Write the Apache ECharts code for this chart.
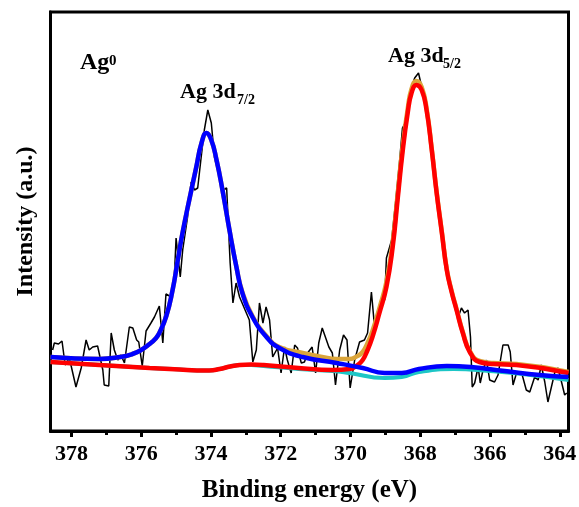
<!DOCTYPE html>
<html>
<head>
<meta charset="utf-8">
<script src="https://cdn.jsdelivr.net/npm/echarts@6.0.0/dist/echarts.min.js"></script>
<style>
  html, body { margin: 0; padding: 0; background: #fff; }
  #main { width: 579px; height: 507px; }
</style>
</head>
<body>
<div id="main"></div>
<script>
// raw XPS spectrum (binding energy, intensity a.u.)
var rawE = [378.54,378.49,378.37,378.27,378.18,378.06,377.87,377.72,377.58,377.49,
  377.39,377.25,377.10,377.06,376.93,376.86,376.77,376.67,376.58,376.48,
  376.34,376.24,376.13,376.07,375.97,375.86,375.72,375.62,375.48,375.38,
  375.29,375.14,375.05,375.00,374.88,374.81,374.67,374.57,374.47,374.38,
  374.28,374.19,374.09,373.99,373.90,373.76,373.66,373.55,373.45,373.37,
  373.28,373.18,372.90,372.80,372.70,372.61,372.51,372.42,372.32,372.23,
  372.09,371.99,371.89,371.81,371.70,371.60,371.52,371.41,371.32,371.23,
  371.10,371.00,370.91,370.81,370.71,370.62,370.52,370.43,370.31,370.20,
  370.10,370.01,369.88,369.74,369.60,369.51,369.40,369.31,369.21,369.12,
  369.02,368.97,368.82,368.71,368.59,368.51,368.36,368.30,368.16,368.05,
  367.97,367.83,367.79,367.64,367.54,367.41,367.25,367.16,367.06,366.96,
  366.89,366.82,366.73,366.63,366.56,366.51,366.44,366.34,366.28,366.20,
  366.10,366.01,365.87,365.77,365.63,365.48,365.42,365.34,365.24,365.10,
  364.96,364.86,364.72,364.62,364.53,364.43,364.34,364.24,364.14,364.05,
  363.95,363.86,363.80];
var rawI = [81,88,87,90,66,73,44,63,91,81,
  84,85,61,46,45,98,81,71,76,68,
  104,103,91,89,65,100,108,114,125,88,
  137,134,154,193,154,181,214,249,241,243,
  274,301,321,308,274,254,241,243,168,128,
  148,134,111,69,81,128,108,124,111,74,
  83,58,84,71,58,86,83,68,69,78,
  84,58,88,103,93,84,78,46,81,96,
  91,43,71,89,91,98,139,104,119,131,
  131,173,191,228,271,303,313,339,353,358,
  346,328,318,271,244,206,163,151,134,124,
  116,123,118,121,94,44,48,64,48,61,
  71,51,49,56,86,86,79,46,58,59,
  41,39,54,51,66,49,29,44,59,63,
  49,36,38];

// Ag 3d7/2 component (blue)
var blueE = [378.6,377.20,376.60,376.25,376.00,375.76,375.60,375.48,375.28,375.10,
  374.96,374.81,374.61,374.42,374.27,374.13,373.99,373.84,373.67,373.47,
  373.27,373.10,372.81,372.41,372.04,371.37,370.40,369.65,369.02,368.53,
  368.04,367.24,366.55,365.58,364.57,363.75];
var blueI = [74,72,74,77,81,87,92,98,115,141,
  169,199,233,264,288,298,291,271,241,201,
  164,138,114,94,83,74,68,63,58,58,
  62,65,64,60,56,54];

// Ag 3d5/2 component (red)
var redE = [378.6,377.20,375.76,374.90,374.40,374.05,373.75,373.45,373.18,372.85,
  372.49,371.49,370.51,370.03,369.80,369.65,369.51,369.37,369.17,368.97,
  368.79,368.65,368.51,368.36,368.25,368.11,367.96,367.82,367.67,367.53,
  367.38,367.24,367.10,366.96,366.78,366.58,366.30,365.90,365.24,363.75];
var redI = [69,66,63,61.5,60.5,60.5,62,64.5,66,66.5,
  66,63,61,62,66,71,81,94,118,144,
  184,231,278,318,338,346,341,321,281,238,
  198,161,139,121,98,79,69,67,66,58];

// background (cyan)
var bgE = [378.6,375.76,374.90,374.40,374.05,373.75,373.45,373.18,372.85,372.49,
  371.49,370.51,370.03,369.02,368.53,368.04,367.04,366.01,365.07,363.75];
var bgI = [69,63,61.5,60.5,60.5,62,64.5,66,66,65,
  62,60,58,53,54,59,62,60,57,51];

// envelope (orange)
var envE = [378.6,377.20,376.60,376.25,376.00,375.76,375.60,375.48,375.28,375.10,
  374.96,374.81,374.61,374.42,374.27,374.13,373.99,373.84,373.67,373.47,
  373.27,373.10,372.81,372.41,372.04,371.37,370.81,370.40,370.03,369.80,
  369.65,369.51,369.37,369.17,368.97,368.79,368.65,368.51,368.36,368.25,
  368.11,367.96,367.82,367.67,367.53,367.38,367.24,367.10,366.96,366.78,
  366.58,366.30,365.90,365.24,363.75];
var envI = [74,72,74,77,81,87,92,98,115,141,
  169,199,233,264,288,298,291,271,241,201,
  164,139,115,95,84,78,74,72,72,75,
  79,88,100,123,149,189,236,283,322,342,
  350,344,323,282,239,199,162,140,122,99,
  80,70,68,67,59];

var majorTicks = [378, 376, 374, 372, 370, 368, 366, 364];
var minorTicks = [377, 375, 373, 371, 369, 367, 365];

function pairs(xs, ys) {
    return xs.map(function (x, i) { return [x, ys[i]]; });
}

var serif = '"Liberation Serif", "Times New Roman", serif';

var myChart = echarts.init(document.getElementById('main'));

var option = {
    animation: false,
    backgroundColor: '#fff',
    grid: {
        left: 50.5, right: 10.5, top: 12, bottom: 76,
        show: true, borderColor: '#000', borderWidth: 3,
        outerBoundsMode: 'none'
    },
    xAxis: [{
        type: 'value',
        inverse: true,
        min: 363.75,
        max: 378.6,
        position: 'bottom',
        axisLine: { show: true, lineStyle: { color: '#000', width: 3 } },
        axisTick: { show: true, customValues: majorTicks, length: 6, lineStyle: { color: '#000', width: 3 } },
        axisLabel: {
            customValues: majorTicks, color: '#000', fontFamily: serif,
            fontWeight: 'bold', fontSize: 22, margin: 12
        },
        splitLine: { show: false },
        name: 'Binding energy (eV)',
        nameLocation: 'middle',
        nameGap: 47,
        nameTextStyle: { color: '#000', fontFamily: serif, fontWeight: 'bold', fontSize: 25 }
    }, {
        type: 'value',
        inverse: true,
        min: 363.75,
        max: 378.6,
        position: 'bottom',
        axisLine: { show: false },
        axisTick: { show: true, customValues: minorTicks, length: 4, lineStyle: { color: '#000', width: 3 } },
        axisLabel: { show: false },
        splitLine: { show: false }
    }],
    yAxis: {
        type: 'value',
        min: 0,
        max: 419,
        axisLine: { show: true, lineStyle: { color: '#000', width: 3 } },
        axisTick: { show: false },
        axisLabel: { show: false },
        splitLine: { show: false },
        name: 'Intensity (a.u.)',
        nameLocation: 'middle',
        nameGap: 13,
        nameTextStyle: { color: '#000', fontFamily: serif, fontWeight: 'bold', fontSize: 24 }
    },
    series: [{
        name: 'raw', type: 'line', symbol: 'none', data: pairs(rawE, rawI),
        lineStyle: { color: '#000', width: 1.5 }
    }, {
        name: 'background', type: 'line', symbol: 'none', smooth: 0.5, data: pairs(bgE, bgI),
        lineStyle: { color: '#1cc6c6', width: 4 }
    }, {
        name: 'envelope', type: 'line', symbol: 'none', smooth: 0.5, data: pairs(envE, envI),
        lineStyle: { color: '#dba53a', width: 4.5 }
    }, {
        name: 'Ag 3d5/2', type: 'line', symbol: 'none', smooth: 0.5, data: pairs(redE, redI),
        lineStyle: { color: '#ff0000', width: 4.5 }
    }, {
        name: 'Ag 3d7/2', type: 'line', symbol: 'none', smooth: 0.5, data: pairs(blueE, blueI),
        lineStyle: { color: '#0000ff', width: 4.5 }
    }],
    graphic: [
        { type: 'text', x: 80, y: 63, style: { text: 'Ag', font: 'bold 24px ' + serif, fill: '#000', verticalAlign: 'middle' } },
        { type: 'text', x: 109, y: 61, style: { text: '0', font: 'bold 15px ' + serif, fill: '#000', verticalAlign: 'middle' } },
        { type: 'text', x: 180, y: 92, style: { text: 'Ag 3d', font: 'bold 22px ' + serif, fill: '#000', verticalAlign: 'middle' } },
        { type: 'text', x: 237, y: 100, style: { text: '7/2', font: 'bold 14px ' + serif, fill: '#000', verticalAlign: 'middle' } },
        { type: 'text', x: 388, y: 56, style: { text: 'Ag 3d', font: 'bold 22px ' + serif, fill: '#000', verticalAlign: 'middle' } },
        { type: 'text', x: 443, y: 64, style: { text: '5/2', font: 'bold 14px ' + serif, fill: '#000', verticalAlign: 'middle' } }
    ]
};

myChart.setOption(option);
</script>
</body>
</html>
